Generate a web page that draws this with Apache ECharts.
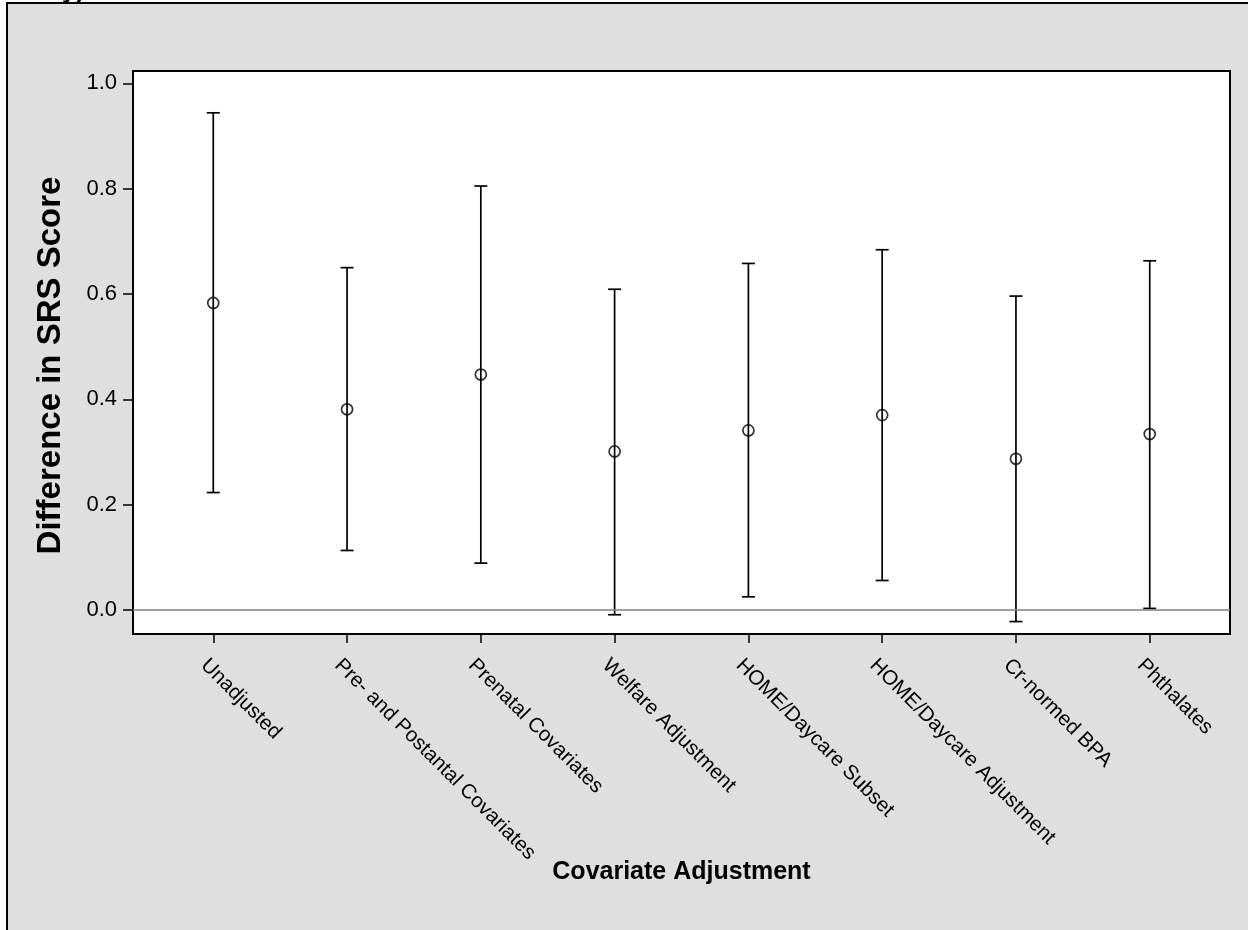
<!DOCTYPE html>
<html><head><meta charset="utf-8">
<script src="https://cdn.jsdelivr.net/npm/echarts@6/dist/echarts.min.js"></script>
<style>html,body{margin:0;padding:0;background:#fff;} #c{width:1248px;height:930px;}</style>
</head><body><div id="c"></div>
<script>
const categories = ['Unadjusted','Pre- and Postantal Covariates','Prenatal Covariates','Welfare Adjustment','HOME/Daycare Subset','HOME/Daycare Adjustment','Cr-normed BPA','Phthalates'];
const estimates = [0.583, 0.381, 0.447, 0.301, 0.341, 0.370, 0.287, 0.334];
const lowerCI   = [0.223, 0.113, 0.089, -0.009, 0.025, 0.056, -0.022, 0.003];
const upperCI   = [0.944, 0.650, 0.805, 0.609, 0.658, 0.684, 0.596, 0.663];
const yTicks = [0.0, 0.2, 0.4, 0.6, 0.8, 1.0];
const xTitle = 'Covariate Adjustment';
const yTitle = 'Difference in SRS Score';

const catIdx = categories.map((_, i) => i);
const FONT = '"Liberation Sans", Arial, Helvetica, sans-serif';

const chart = echarts.init(document.getElementById('c'), null, {renderer: 'canvas'});
chart.setOption({
  backgroundColor: '#ffffff',
  animation: false,
  textStyle: {fontFamily: FONT, color: '#000'},
  graphic: [
    {type: 'rect', z: -10, silent: true,
     shape: {x: 7, y: 3, width: 1400, height: 1100},
     style: {fill: '#dfdfdf', stroke: '#000', lineWidth: 2}},
    {type: 'text', x: 62, y: 4, silent: true,
     style: {text: 'y)', font: 'bold 25px ' + FONT, fill: '#000', verticalAlign: 'bottom'}}
  ],
  grid: {
    left: 133, right: 18, top: 71, bottom: 296,
    show: true, backgroundColor: '#ffffff', borderColor: '#000', borderWidth: 2
  },
  xAxis: {
    type: 'value', min: -0.6, max: 7.6,
    splitLine: {show: false},
    axisLine: {show: true, onZero: false, lineStyle: {color: '#000', width: 2}},
    axisTick: {show: true, customValues: catIdx, length: 9, lineStyle: {color: '#000', width: 1.5}},
    axisLabel: {
      customValues: catIdx,
      formatter: v => categories[Math.round(v)],
      rotate: -45, fontSize: 20.6, color: '#000', fontFamily: FONT,
      margin: 19, align: 'left', verticalAlign: 'top', lineHeight: 26
    },
    name: xTitle, nameLocation: 'middle', nameGap: 226, nameMoveOverlap: false,
    nameTextStyle: {fontSize: 25, fontWeight: 'bold', color: '#000', fontFamily: FONT}
  },
  yAxis: {
    type: 'value', min: -0.0456, max: 1.0234,
    splitLine: {show: false},
    axisLine: {show: true, onZero: false, lineStyle: {color: '#000', width: 2}},
    axisTick: {show: true, customValues: yTicks, length: 10, lineStyle: {color: '#000', width: 1.5}},
    axisLabel: {
      customValues: yTicks, formatter: v => v.toFixed(1),
      fontSize: 22, color: '#000', fontFamily: FONT, margin: 16
    },
    name: yTitle, nameLocation: 'middle', nameGap: 66, nameMoveOverlap: false,
    nameTextStyle: {fontSize: 33, fontWeight: 'bold', color: '#000', fontFamily: FONT, padding: [0, 26, 0, 0]}
  },
  series: [
    {
      type: 'custom',
      name: 'CI',
      silent: true,
      data: catIdx.map(i => [i, lowerCI[i], upperCI[i]]),
      renderItem: function (params, api) {
        const x = api.value(0);
        const top = api.coord([x, api.value(2)]);
        const bot = api.coord([x, api.value(1)]);
        const hw = 6.5;
        const st = {stroke: '#000', lineWidth: 1.7};
        return {
          type: 'group',
          children: [
            {type: 'line', shape: {x1: top[0], y1: top[1], x2: bot[0], y2: bot[1]}, style: st},
            {type: 'line', shape: {x1: top[0] - hw, y1: top[1], x2: top[0] + hw, y2: top[1]}, style: st},
            {type: 'line', shape: {x1: bot[0] - hw, y1: bot[1], x2: bot[0] + hw, y2: bot[1]}, style: st}
          ]
        };
      },
      markLine: {
        silent: true, symbol: 'none', label: {show: false},
        lineStyle: {color: '#808080', width: 1.5, type: 'solid'},
        data: [{yAxis: 0}]
      },
      z: 3
    },
    {
      type: 'scatter',
      name: 'Estimate',
      data: catIdx.map(i => [i, estimates[i]]),
      symbol: 'circle', symbolSize: 11,
      itemStyle: {color: 'rgba(0,0,0,0)', borderColor: '#000', borderWidth: 1.7},
      z: 4
    }
  ]
});
</script>
</body></html>
